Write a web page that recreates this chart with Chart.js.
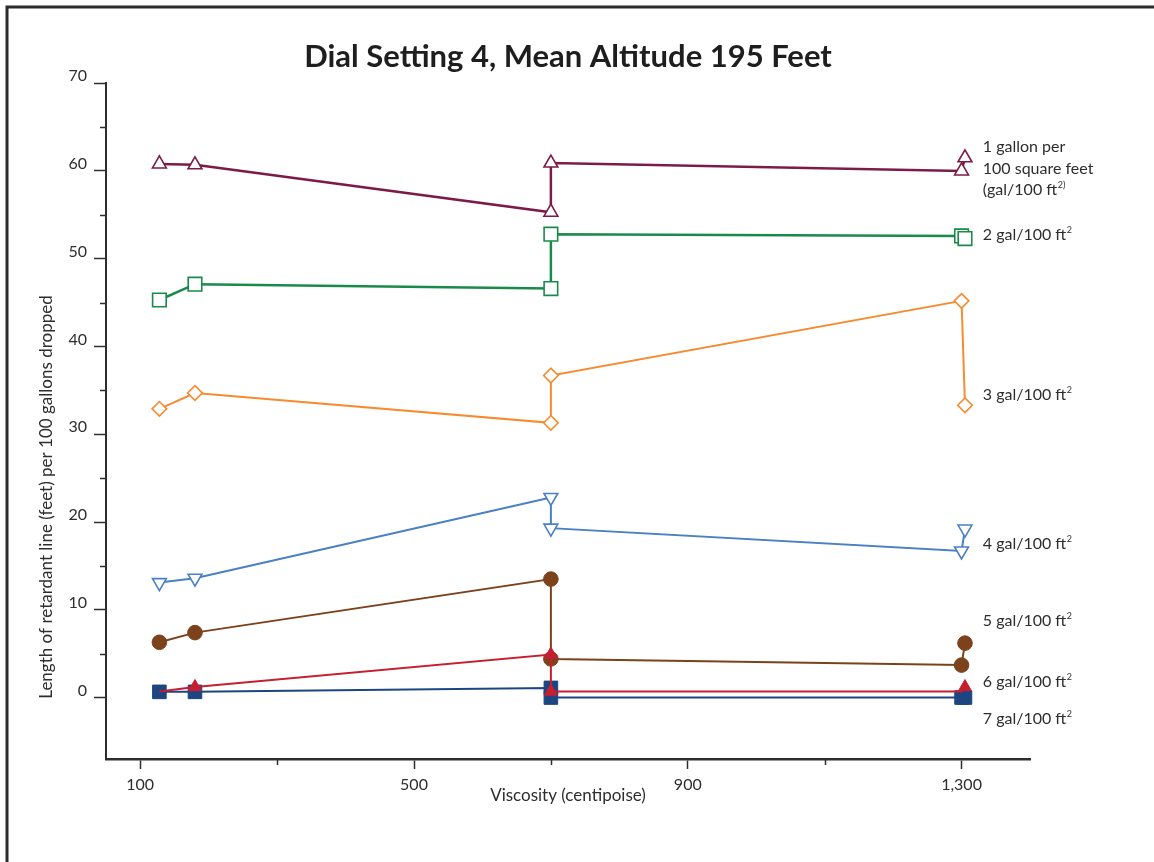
<!DOCTYPE html>
<html>
<head>
<meta charset="utf-8">
<title>Dial Setting 4, Mean Altitude 195 Feet</title>
<script src="https://cdn.jsdelivr.net/npm/chart.js@4.4.1/dist/chart.umd.min.js"></script>
<style>
    html, body { margin: 0; padding: 0; background: #fff; }
    canvas { display: block; }
</style>
</head>
<body>
<canvas id="chart" width="1154" height="862"></canvas>
<script>
// ===== Data =====
const viscosity = [128, 180, 700, 700, 1300, 1305];

const gal1 = [60.8, 60.7, 55.3, 60.9, 60.0, 61.5];
const gal2 = [45.3, 47.1, 46.6, 52.8, 52.6, 52.3];
const gal3 = [32.9, 34.7, 31.3, 36.7, 45.2, 33.3];
const gal4 = [13.1, 13.6, 22.8, 19.3, 16.7, 19.2];
const gal5 = [6.3, 7.4, 13.5, 4.4, 3.7, 6.2];
const gal6 = [0.7, 1.2, 4.9, 0.7, 0.7, 1.2];
const gal7 = [0.65, 0.65, 1.1, 0.0, 0.0, 0.0];

const xTicks = [100, 500, 900, 1300];
const xMinorTicks = [300, 700, 1100];
const yTicks = [0, 10, 20, 30, 40, 50, 60, 70];
const yMinorTicks = [5, 15, 25, 35, 45, 55, 65];

const chartTitle = "Dial Setting 4, Mean Altitude 195 Feet";
const xTitle = "Viscosity (centipoise)";
const yTitle = "Length of retardant line (feet) per 100 gallons dropped";

// series labels on the right: [text, superscript]
const seriesLabels = [
    [["1 gallon per", ""], ["100 square feet", ""], ["(gal/100 ft", "2)"]],
    [["2 gal/100 ft", "2"]],
    [["3 gal/100 ft", "2"]],
    [["4 gal/100 ft", "2"]],
    [["5 gal/100 ft", "2"]],
    [["6 gal/100 ft", "2"]],
    [["7 gal/100 ft", "2"]]
];

// ===== Styling / placement =====
const FONT = "Lato, 'Open Sans', sans-serif";
const INK = "#2e2e2e";
const labelX = 1331;
const labelY = [[62.7, 60.2, 57.8], [52.7], [34.5], [17.5], [8.7], [1.8], [-2.4]];

function series(values, color, style, opts) {
    return Object.assign({
        data: viscosity.map((x, i) => ({ x: x, y: values[i] })),
        borderColor: color,
        backgroundColor: "#ffffff",
        pointBorderColor: color,
        pointBackgroundColor: "#ffffff",
        pointStyle: style,
        borderWidth: 2,
        pointBorderWidth: 1.6,
        pointRadius: 8,
        tension: 0,
        fill: false
    }, opts || {});
}

const datasets = [
    series(gal6, "#c61f2f", "triangle", { pointBackgroundColor: "#c61f2f", pointRadius: [0, 7.5, 7.5, 7.5, 0, 7.5], pointBorderWidth: 1 }),
    series(gal7, "#1c4581", "rect", { pointBackgroundColor: "#1c4581", pointRadius: 9.6, pointBorderWidth: 1 }),
    series(gal1, "#7c1a48", "triangle", { borderWidth: 2.5 }),
    series(gal2, "#1a8a4b", "rect", { pointRadius: 9.6, borderWidth: 2.5 }),
    series(gal3, "#f68b2f", "rectRot", { pointRadius: 7.3 }),
    series(gal4, "#4a80c4", "triangle", { pointRotation: 180 }),
    series(gal5, "#7b421c", "circle", { pointBackgroundColor: "#7b421c", pointRadius: 7.3, pointBorderWidth: 1 })
];

const decorations = {
    id: "decorations",
    beforeDraw(chart) {
        const ctx = chart.ctx;
        ctx.save();
        ctx.fillStyle = "#ffffff";
        ctx.fillRect(0, 0, chart.width, chart.height);
        ctx.strokeStyle = "#2b2b2b";
        ctx.lineWidth = 3;
        ctx.beginPath();
        ctx.moveTo(7, chart.height);
        ctx.lineTo(7, 7);
        ctx.lineTo(chart.width, 7);
        ctx.stroke();
        ctx.restore();
    },
    afterDraw(chart) {
        const ctx = chart.ctx;
        const xs = chart.scales.x;
        const ys = chart.scales.y;
        const area = chart.chartArea;
        ctx.save();

        // ===== Minor ticks =====
        ctx.strokeStyle = INK;
        ctx.lineWidth = 1.5;
        xMinorTicks.forEach(v => {
            const px = Math.round(xs.getPixelForValue(v)) + 0.5;
            ctx.beginPath();
            ctx.moveTo(px, area.bottom);
            ctx.lineTo(px, area.bottom + 6);
            ctx.stroke();
        });
        yMinorTicks.forEach(v => {
            const py = Math.round(ys.getPixelForValue(v)) + 0.5;
            ctx.beginPath();
            ctx.moveTo(area.left - 6, py);
            ctx.lineTo(area.left, py);
            ctx.stroke();
        });

        // ===== Y axis title =====
        ctx.fillStyle = INK;
        ctx.font = "17px " + FONT;
        ctx.translate(47, 497);
        ctx.rotate(-Math.PI / 2);
        ctx.textAlign = "center";
        ctx.textBaseline = "middle";
        ctx.fillText(yTitle, 0, 0);
        ctx.setTransform(1, 0, 0, 1, 0, 0);

        // ===== Series labels =====
        ctx.textAlign = "left";
        ctx.textBaseline = "middle";
        const lx = xs.getPixelForValue(labelX);
        seriesLabels.forEach((lines, i) => {
            lines.forEach((ln, j) => {
                const py = ys.getPixelForValue(labelY[i][j]);
                ctx.font = "16px " + FONT;
                ctx.fillText(ln[0], lx, py);
                if (ln[1]) {
                    const w = ctx.measureText(ln[0]).width;
                    ctx.font = "9px " + FONT;
                    ctx.fillText(ln[1], lx + w + 0.5, py - 5);
                }
            });
        });
        ctx.restore();
    }
};

new Chart(document.getElementById("chart"), {
    type: "line",
    data: { datasets: datasets },
    plugins: [decorations],
    options: {
        responsive: false,
        animation: false,
        devicePixelRatio: 1,
        layout: { padding: { left: 0, right: 124, top: 0, bottom: 0 } },
        plugins: {
            legend: { display: false },
            tooltip: { enabled: false },
            title: {
                display: true,
                text: chartTitle,
                fullSize: false,
                color: "#1e1e1e",
                font: { family: FONT, size: 31, weight: "bold" },
                padding: { top: 38, bottom: 8 }
            }
        },
        scales: {
            x: {
                type: "linear",
                min: 50,
                max: 1400,
                afterBuildTicks: s => { s.ticks = xTicks.map(v => ({ value: v })); },
                afterFit: s => { s.height = 103; },
                border: { display: true, color: INK, width: 2.5 },
                grid: { drawOnChartArea: false, drawTicks: true, tickLength: 10, tickColor: INK, tickWidth: 1.5 },
                ticks: {
                    color: INK,
                    padding: 6,
                    font: { family: FONT, size: 16 },
                    maxRotation: 0,
                    callback: v => v.toLocaleString("en-US")
                },
                title: {
                    display: true,
                    text: xTitle,
                    color: INK,
                    font: { family: FONT, size: 17 },
                    padding: { top: 0, bottom: 56 }
                }
            },
            y: {
                type: "linear",
                min: -7,
                max: 70,
                afterBuildTicks: s => { s.ticks = yTicks.map(v => ({ value: v })); },
                afterFit: s => { s.width = 106; },
                border: { display: true, color: INK, width: 2 },
                grid: { drawOnChartArea: false, drawTicks: true, tickLength: 12, tickColor: INK, tickWidth: 1.5 },
                ticks: {
                    color: INK,
                    padding: 7,
                    labelOffset: -7,
                    font: { family: FONT, size: 16 },
                    callback: v => String(v)
                }
            }
        }
    }
});
</script>
</body>
</html>
